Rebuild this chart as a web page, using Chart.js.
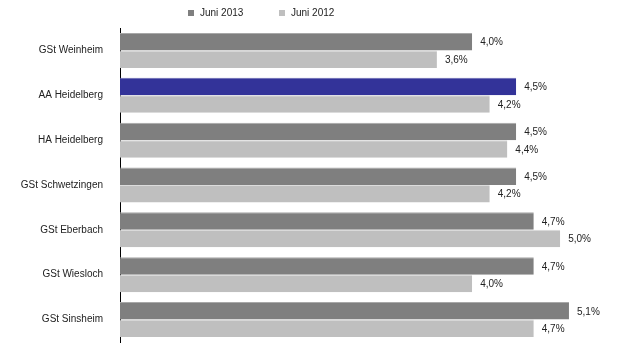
<!DOCTYPE html>
<html>
<head>
<meta charset="utf-8">
<script src="https://cdn.jsdelivr.net/npm/chart.js@4"></script>
<style>
  html, body { margin: 0; padding: 0; background: #fff; }
  canvas { display: block; }
</style>
</head>
<body>
<canvas id="quoteChart" width="619" height="350"></canvas>
<script>
const offices = [
  "GSt Weinheim",
  "AA Heidelberg",
  "HA Heidelberg",
  "GSt Schwetzingen",
  "GSt Eberbach",
  "GSt Wiesloch",
  "GSt Sinsheim"
];
const seriesNames = ["Juni 2013", "Juni 2012"];
const june2013 = [4.0, 4.5, 4.5, 4.5, 4.7, 4.7, 5.1];
const june2012 = [3.6, 4.2, 4.4, 4.2, 5.0, 4.0, 4.7];

const darkGray = "#7f7f7f";
const lightGray = "#bfbfbf";
const highlight = "#333399";
const fontFamily = "'Liberation Sans', Arial, sans-serif";

Chart.defaults.font.family = fontFamily;
Chart.defaults.font.size = 10;
Chart.defaults.color = "#222";

// writes "x,y%" to the right of each bar
const valueLabels = {
  id: "valueLabels",
  afterDatasetsDraw(chart) {
    const ctx = chart.ctx;
    ctx.save();
    ctx.font = "10px " + fontFamily;
    ctx.fillStyle = "#222";
    ctx.textAlign = "left";
    ctx.textBaseline = "middle";
    chart.data.datasets.forEach((ds, i) => {
      chart.getDatasetMeta(i).data.forEach((bar, j) => {
        const txt = ds.data[j].toFixed(1).replace(".", ",") + "%";
        ctx.fillText(txt, bar.x + 8, bar.y + 1);
      });
    });
    ctx.restore();
  }
};

// small square legend above the plot, spaced wide apart
const topLegend = {
  id: "topLegend",
  afterDraw(chart) {
    const ctx = chart.ctx;
    const xs = [188, 279];
    const colors = [darkGray, lightGray];
    ctx.save();
    ctx.font = "10px " + fontFamily;
    ctx.textBaseline = "middle";
    ctx.textAlign = "left";
    seriesNames.forEach((name, i) => {
      ctx.fillStyle = colors[i];
      ctx.fillRect(xs[i], 10, 6, 6);
      ctx.fillStyle = "#222";
      ctx.fillText(name, xs[i] + 12, 13.5);
    });
    ctx.restore();
  }
};

new Chart(document.getElementById("quoteChart"), {
  type: "bar",
  data: {
    labels: offices,
    datasets: [
      {
        label: seriesNames[0],
        data: june2013,
        backgroundColor: (c) => (c.dataIndex === 1 ? highlight : darkGray),
        borderColor: (c) => (c.dataIndex === 1 ? "#6666b3" : "#a8a8a8"),
        borderWidth: { top: 1, right: 0, bottom: 0, left: 0 },
        borderSkipped: false
      },
      {
        label: seriesNames[1],
        data: june2012,
        backgroundColor: lightGray,
        borderColor: "#dcdcdc",
        borderWidth: { top: 1, right: 0, bottom: 0, left: 0 },
        borderSkipped: false
      }
    ]
  },
  options: {
    indexAxis: "y",
    responsive: false,
    animation: false,
    layout: { padding: { left: 0, right: 6, top: 28, bottom: 8 } },
    datasets: {
      bar: { categoryPercentage: 0.78, barPercentage: 1.0 }
    },
    scales: {
      x: {
        display: false,
        min: 0,
        max: 5.6
      },
      y: {
        grid: { display: false, drawTicks: false },
        border: { display: true, color: "#000", width: 1 },
        ticks: { padding: 17, color: "#222" },
        afterFit(scale) {
          scale.width = 120;
          // labels sit inside their bands, no extra room needed above/below
          scale.paddingTop = 0;
          scale.paddingBottom = 0;
        }
      }
    },
    plugins: {
      legend: { display: false },
      tooltip: { enabled: false }
    }
  },
  plugins: [valueLabels, topLegend]
});
</script>
</body>
</html>
